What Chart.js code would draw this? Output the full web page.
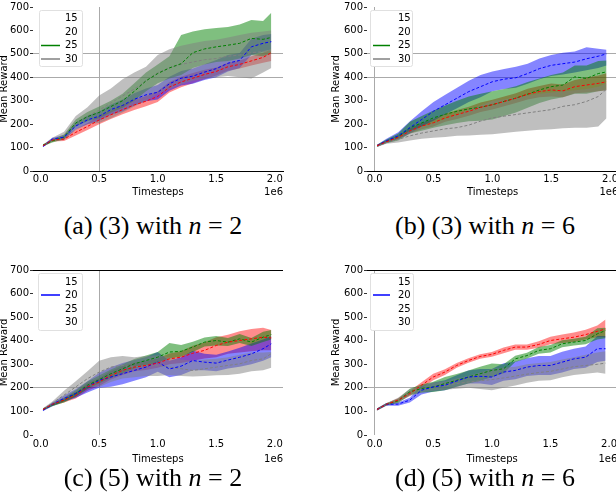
<!DOCTYPE html>
<html lang="en">
<head>
<meta charset="UTF-8" />
<title>Mean Reward vs Timesteps</title>
<script src="https://cdn.jsdelivr.net/npm/chart.js@4"></script>
<style>
  html, body { margin: 0; padding: 0; background: #fff; overflow: hidden; width: 616px; height: 500px; }
  canvas { position: absolute; }
  .cap {
    position: absolute; width: 300px; text-align: center; color: #000;
    font-family: "Liberation Serif", "DejaVu Serif", serif; font-size: 26px; line-height: 26px;
  }
</style>
</head>
<body>
<canvas id="chartA" width="302" height="198" style="left:-2px;top:0px"></canvas>
<canvas id="chartB" width="290" height="198" style="left:330px;top:0px"></canvas>
<canvas id="chartC" width="302" height="202" style="left:-2px;top:263px"></canvas>
<canvas id="chartD" width="290" height="202" style="left:330px;top:263px"></canvas>
<div class="cap" style="left:3px;top:213px">(a) (3) with <i>n</i> = 2</div>
<div class="cap" style="left:335px;top:213px">(b) (3) with <i>n</i> = 6</div>
<div class="cap" style="left:3px;top:465px">(c) (5) with <i>n</i> = 2</div>
<div class="cap" style="left:335px;top:465px">(d) (5) with <i>n</i> = 6</div>
<script>
// timesteps (x 1e6)
const steps = [0.02, 0.1, 0.2, 0.3, 0.4, 0.5, 0.6, 0.7, 0.8, 0.9, 1.0, 1.1, 1.2, 1.3, 1.4, 1.5, 1.6, 1.7, 1.8, 1.9, 1.97];
const seriesNames = ["15", "20", "25", "30"];
const xTickValues = [0, 0.5, 1.0, 1.5, 2.0];

// (a) (3) with n = 2
const aMean15 = [108, 132, 136, 165, 190, 218, 240, 262, 282, 298, 318, 358, 380, 396, 412, 425, 445, 455, 470, 485, 505];
const aLo15   = [104, 126, 128, 152, 175, 200, 222, 242, 260, 276, 295, 335, 358, 375, 392, 408, 428, 438, 450, 462, 470];
const aHi15   = [112, 138, 144, 178, 205, 236, 258, 282, 304, 320, 340, 380, 402, 418, 432, 442, 462, 472, 490, 505, 520];
const aMean20 = [105, 136, 145, 192, 218, 234, 262, 280, 306, 325, 336, 372, 396, 405, 422, 437, 460, 472, 530, 545, 552];
const aLo20   = [101, 130, 136, 178, 200, 214, 240, 255, 280, 298, 305, 342, 365, 372, 388, 400, 425, 440, 495, 510, 520];
const aHi20   = [109, 142, 154, 206, 236, 254, 284, 305, 332, 352, 367, 402, 427, 438, 456, 474, 495, 504, 565, 580, 585];
const aMean25 = [110, 128, 145, 205, 232, 250, 275, 300, 340, 385, 416, 440, 458, 505, 521, 530, 537, 545, 566, 562, 570];
const aLo25   = [106, 122, 135, 190, 212, 225, 250, 270, 300, 340, 375, 395, 410, 440, 455, 465, 470, 480, 495, 490, 500];
const aHi25   = [114, 134, 156, 220, 252, 275, 300, 330, 375, 420, 455, 490, 580, 595, 605, 610, 615, 625, 645, 640, 675];
const aMean30 = [108, 134, 150, 205, 235, 260, 290, 320, 350, 385, 420, 440, 455, 465, 475, 480, 490, 495, 505, 510, 515];
const aLo30   = [104, 126, 132, 175, 200, 205, 225, 250, 275, 300, 330, 350, 370, 385, 395, 400, 405, 400, 395, 420, 440];
const aHi30   = [112, 142, 168, 235, 272, 322, 352, 392, 420, 445, 495, 520, 535, 545, 555, 560, 570, 580, 590, 595, 600];

// (b) (3) with n = 6
const bMean15 = [108, 125, 143, 171, 192, 206, 227, 241, 255, 272, 283, 297, 311, 328, 339, 346, 342, 360, 367, 374, 381];
const bLo15   = [104, 120, 135, 160, 178, 190, 210, 222, 236, 252, 262, 276, 290, 305, 315, 318, 315, 332, 335, 340, 345];
const bHi15   = [112, 130, 151, 182, 206, 222, 244, 260, 274, 292, 304, 318, 332, 351, 363, 374, 369, 388, 399, 408, 417];
const bMean20 = [108, 129, 150, 185, 220, 255, 283, 311, 339, 360, 381, 392, 398, 416, 437, 451, 458, 465, 479, 490, 500];
const bLo20   = [104, 120, 135, 160, 190, 215, 242, 268, 295, 315, 340, 350, 355, 372, 392, 405, 412, 420, 430, 440, 450];
const bHi20   = [112, 138, 165, 212, 255, 295, 325, 355, 385, 410, 425, 435, 445, 458, 480, 495, 505, 510, 528, 522, 518];
const bMean25 = [108, 126, 145, 185, 205, 227, 242, 255, 265, 272, 283, 297, 311, 328, 346, 360, 367, 402, 395, 416, 423];
const bLo25   = [104, 118, 130, 160, 172, 185, 195, 205, 212, 215, 220, 235, 250, 270, 290, 305, 315, 330, 330, 340, 345];
const bHi25   = [112, 134, 160, 210, 235, 258, 280, 300, 318, 330, 340, 350, 362, 380, 395, 410, 420, 450, 450, 470, 472];
const bMean30 = [105, 122, 135, 150, 162, 171, 180, 185, 196, 213, 227, 234, 241, 248, 255, 262, 276, 283, 297, 318, 350];
const bLo30   = [102, 116, 122, 130, 138, 142, 145, 150, 152, 155, 157, 162, 168, 172, 176, 178, 182, 185, 185, 190, 225];
const bHi30   = [108, 128, 148, 172, 190, 205, 222, 240, 260, 280, 300, 305, 315, 322, 330, 335, 340, 345, 350, 360, 375];

// (c) (5) with n = 2
const cMean15 = [108, 130, 148, 169, 204, 225, 253, 274, 288, 295, 305, 323, 330, 347, 359, 380, 394, 401, 408, 415, 412];
const cLo15   = [104, 124, 138, 155, 188, 208, 235, 255, 270, 276, 285, 300, 305, 315, 325, 330, 345, 350, 355, 360, 360];
const cHi15   = [112, 136, 158, 183, 220, 242, 271, 293, 306, 314, 325, 346, 355, 379, 393, 415, 425, 440, 450, 455, 445];
const cMean20 = [105, 130, 155, 176, 204, 232, 246, 260, 274, 288, 310, 280, 292, 316, 309, 305, 318, 330, 344, 366, 387];
const cLo20   = [101, 122, 142, 158, 180, 200, 205, 215, 230, 245, 268, 245, 255, 275, 275, 270, 282, 290, 300, 315, 330];
const cHi20   = [109, 138, 168, 194, 228, 264, 287, 305, 318, 331, 352, 315, 330, 357, 345, 340, 354, 370, 388, 405, 420];
const cMean25 = [108, 128, 148, 176, 211, 235, 260, 281, 302, 316, 330, 352, 355, 373, 394, 401, 394, 408, 394, 415, 426];
const cLo25   = [104, 122, 138, 162, 195, 218, 242, 262, 282, 295, 308, 325, 332, 352, 375, 380, 378, 390, 378, 395, 405];
const cHi25   = [112, 134, 158, 190, 227, 252, 278, 300, 322, 337, 352, 390, 382, 396, 414, 420, 412, 428, 412, 438, 445];
const cMean30 = [110, 135, 169, 204, 239, 267, 288, 295, 288, 295, 295, 288, 281, 274, 281, 288, 295, 302, 316, 323, 345];
const cLo30   = [106, 128, 150, 180, 205, 204, 225, 240, 245, 250, 250, 255, 250, 248, 250, 253, 255, 260, 270, 275, 285];
const cHi30   = [114, 142, 188, 228, 270, 315, 330, 335, 330, 335, 338, 330, 320, 315, 320, 323, 330, 340, 350, 350, 352];

// (d) (5) with n = 6
const dMean15 = [108, 130, 148, 176, 211, 246, 267, 295, 316, 333, 342, 359, 373, 373, 384, 401, 408, 415, 426, 440, 450];
const dLo15   = [104, 125, 140, 165, 198, 232, 255, 285, 306, 323, 332, 347, 362, 362, 370, 385, 390, 395, 405, 415, 415];
const dHi15   = [112, 135, 156, 187, 224, 260, 279, 305, 326, 343, 352, 371, 384, 384, 398, 417, 426, 435, 447, 465, 490];
const dMean20 = [108, 130, 131, 148, 190, 204, 211, 229, 246, 249, 246, 267, 274, 288, 295, 295, 309, 323, 330, 366, 366];
const dLo20   = [104, 124, 124, 138, 172, 185, 190, 205, 218, 218, 212, 230, 236, 250, 255, 255, 265, 280, 285, 310, 315];
const dHi20   = [112, 136, 138, 158, 208, 223, 232, 253, 274, 280, 280, 304, 312, 326, 335, 335, 353, 366, 375, 420, 420];
const dMean25 = [108, 130, 145, 183, 197, 204, 218, 232, 246, 260, 274, 281, 323, 337, 359, 366, 387, 394, 401, 429, 443];
const dLo25   = [104, 125, 136, 170, 180, 182, 190, 205, 218, 230, 245, 262, 310, 325, 345, 350, 372, 380, 385, 405, 410];
const dHi25   = [112, 135, 154, 196, 214, 226, 246, 259, 274, 290, 303, 300, 336, 349, 373, 382, 402, 408, 417, 453, 455];
const dMean30 = [108, 130, 148, 180, 195, 205, 210, 218, 225, 230, 235, 242, 250, 258, 265, 270, 280, 290, 295, 300, 305];
const dLo30   = [104, 125, 138, 165, 180, 188, 192, 196, 200, 195, 190, 200, 210, 222, 230, 232, 245, 255, 260, 265, 260];
const dHi30   = [112, 135, 158, 195, 210, 222, 228, 240, 250, 265, 280, 285, 290, 300, 305, 310, 320, 330, 340, 350, 355];

const lineColors = ["#ff0000", "#0000ff", "#008000", "#808080"];
const bandColors = ["rgba(255,0,0,0.45)", "rgba(0,0,255,0.48)", "rgba(0,128,0,0.5)", "rgba(128,128,128,0.5)"];
const FONT = "'DejaVu Sans', sans-serif";

function pts(arr) {
  return steps.map((x, i) => ({ x: x, y: arr[i] }));
}

// draws the "1e6" offset text and the in-plot legend box
const extras = {
  id: "extras",
  afterDraw(chart, args, o) {
    const { ctx, chartArea: ca } = chart;
    ctx.save();
    ctx.font = "10px " + FONT;
    ctx.fillStyle = "#000";
    ctx.textBaseline = "middle";
    ctx.textAlign = "right";
    ctx.fillText("1e6", ca.right, chart.height - 6);

    const bx = ca.left + o.box[0], by = ca.top + o.box[1];
    ctx.fillStyle = "#fff";
    ctx.strokeStyle = "#e0e0e0";
    ctx.lineWidth = 1;
    ctx.beginPath();
    ctx.roundRect(bx + 0.5, by + 0.5, o.box[2], o.box[3], 2);
    ctx.fill();
    ctx.stroke();

    ctx.textAlign = "left";
    seriesNames.forEach((name, i) => {
      const y = ca.top + o.rows[i];
      if (o.shown.includes(i)) {
        ctx.strokeStyle = lineColors[i];
        ctx.lineWidth = 1.5;
        ctx.beginPath();
        ctx.moveTo(ca.left + o.line[0], y);
        ctx.lineTo(ca.left + o.line[1], y);
        ctx.stroke();
      }
      ctx.fillStyle = "#000";
      ctx.fillText(name, ca.left + o.textX, y);
    });
    ctx.restore();
  }
};

function makeChart(id, means, los, his, cfg) {
  const datasets = [];
  means.forEach((m, i) => {
    datasets.push({
      data: pts(m), borderColor: lineColors[i], borderWidth: 1, borderDash: [3, 2],
      pointRadius: 0, fill: false, order: 0
    });
  });
  los.forEach((lo, i) => {
    const loIndex = datasets.length;
    datasets.push({
      data: pts(lo), borderColor: "transparent", borderWidth: 0,
      pointRadius: 0, fill: false, order: 4 - i
    });
    datasets.push({
      data: pts(his[i]), borderColor: "transparent", borderWidth: 0,
      backgroundColor: bandColors[i], pointRadius: 0, fill: loIndex, order: 4 - i
    });
  });

  return new Chart(document.getElementById(id), {
    type: "line",
    data: { datasets: datasets },
    plugins: [extras],
    options: {
      responsive: false,
      animation: false,
      layout: { padding: { top: 4, right: cfg.padRight, bottom: 0, left: 0 } },
      scales: {
        x: {
          type: "linear",
          min: -0.065,
          max: 2.07,
          afterBuildTicks: (s) => { s.ticks = xTickValues.map((v) => ({ value: v })); },
          afterFit: (s) => { s.height = cfg.xHeight; },
          ticks: {
            padding: cfg.xPad, color: "#000", font: { family: FONT, size: 10 },
            maxRotation: 0, callback: (v) => v.toFixed(1)
          },
          grid: {
            drawTicks: false,
            color: (c) => (c.tick && c.tick.value === cfg.vLine ? "#aaaaaa" : "transparent")
          },
          border: { display: cfg.bottomSpine, color: "#000", width: 1 },
          title: { display: true, text: "Timesteps", color: "#000", padding: 0, font: { family: FONT, size: 10 } }
        },
        y: {
          min: 0,
          max: 700,
          afterFit: (s) => { s.width = cfg.yWidth; },
          ticks: { stepSize: 100, padding: 1, color: "#000", font: { family: FONT, size: 10 } },
          grid: {
            tickLength: 3,
            tickColor: "#333",
            color: (c) => {
              const v = c.tick ? c.tick.value : null;
              if (cfg.hBlack.includes(v)) return "#000";
              if (cfg.hLines.includes(v)) return "#aaaaaa";
              return "transparent";
            }
          },
          border: { display: false },
          title: { display: true, text: "Mean Reward", color: "#000", padding: 0, font: { family: FONT, size: 10 } }
        }
      },
      plugins: {
        legend: { display: false },
        tooltip: { enabled: false },
        extras: cfg.legend
      }
    }
  });
}

makeChart("chartA",
  [aMean15, aMean20, aMean25, aMean30], [aLo15, aLo20, aLo25, aLo30], [aHi15, aHi20, aHi25, aHi30],
  { padRight: 17, yWidth: 35, xHeight: 27, xPad: 2, vLine: 0.5, bottomSpine: true, hLines: [400, 500], hBlack: [],
    legend: { box: [6, 3, 43, 56], rows: [11.5, 25, 38.5, 52], line: [8, 27], textX: 32, shown: [2, 3] } });

makeChart("chartB",
  [bMean15, bMean20, bMean25, bMean30], [bLo15, bLo20, bLo25, bLo30], [bHi15, bHi20, bHi25, bHi30],
  { padRight: 0, yWidth: 37, xHeight: 27, xPad: 2, vLine: 0, bottomSpine: true, hLines: [400, 500], hBlack: [],
    legend: { box: [3, 3, 42, 56], rows: [11.5, 25, 38.5, 52], line: [6, 23], textX: 31, shown: [2, 3] } });

makeChart("chartC",
  [cMean15, cMean20, cMean25, cMean30], [cLo15, cLo20, cLo25, cLo30], [cHi15, cHi20, cHi25, cHi30],
  { padRight: 17, yWidth: 35, xHeight: 30, xPad: 3, vLine: 0.5, bottomSpine: false, hLines: [200], hBlack: [700],
    legend: { box: [5, 3, 44, 57], rows: [12, 25, 39, 52], line: [8, 27], textX: 32, shown: [1] } });

makeChart("chartD",
  [dMean15, dMean20, dMean25, dMean30], [dLo15, dLo20, dLo25, dLo30], [dHi15, dHi20, dHi25, dHi30],
  { padRight: 0, yWidth: 37, xHeight: 30, xPad: 3, vLine: 0, bottomSpine: false, hLines: [200], hBlack: [700],
    legend: { box: [3, 3, 43, 57], rows: [12, 25, 39, 52], line: [6, 23], textX: 31, shown: [1] } });
</script>
</body>
</html>
